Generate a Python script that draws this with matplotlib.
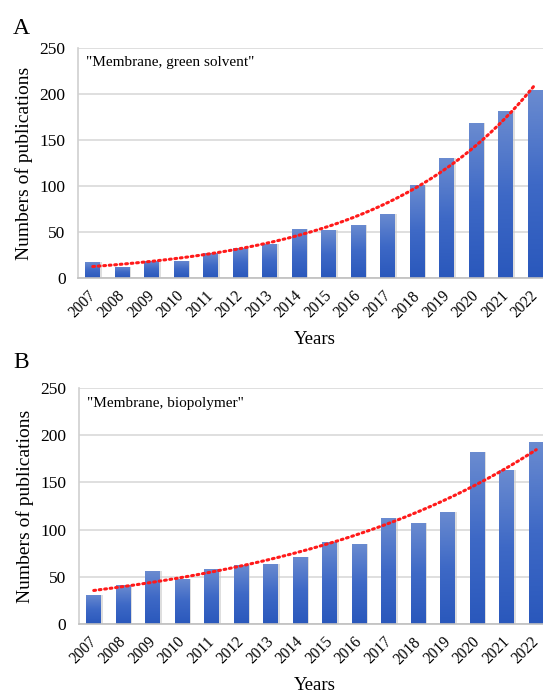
import numpy as np
import matplotlib.pyplot as plt
import matplotlib.colors as mcolors
import matplotlib.transforms as mtrans

plt.rcParams['font.family'] = ['Liberation Serif', 'DejaVu Serif']

years = list(range(2007, 2023))
green_solvent = [17, 12, 19, 19, 27, 33, 37, 53, 52, 58, 70, 101, 130, 168, 181, 204]
biopolymer = [31, 41, 56, 48, 58, 63, 64, 71, 87, 85, 112, 107, 119, 182, 163, 193]

panels = [
    ('A', '"Membrane, green solvent"', green_solvent),
    ('B', '"Membrane, biopolymer"', biopolymer),
]

W, H = 543, 694
fig = plt.figure(figsize=(W / 100, H / 100), dpi=100)

# axes boxes in pixels: left, top, bottom
boxes = [(78, 48, 278), (79, 388, 624)]
label_pos = [(13, 28), (13, 362)]
years_y = [339, 685]

cmap = mcolors.LinearSegmentedColormap.from_list('bar', ['#2a58bc', '#3e69c6', '#6a8bd0'])
grad = np.linspace(0, 1, 100).reshape(-1, 1)
shift = mtrans.ScaledTranslation(-5 / 100, -10 / 100, fig.dpi_scale_trans)

for (letter, note, vals), (l, t, b), (lx, ly), yy in zip(panels, boxes, label_pos, years_y):
    ax = fig.add_axes([l / W, 1 - b / H, 472 / W, (b - t) / H])
    x = np.arange(len(years))
    v = np.array(vals)

    bars = ax.bar(x, v, width=0.5, color='#3e69c6', zorder=2)
    for r in bars:
        bx, by = r.get_x(), r.get_y()
        bw, bh = r.get_width(), r.get_height()
        # soft shadow
        ax.bar(bx + bw / 2 + 0.05, bh, width=bw, bottom=0, color='#c8c8c8',
               alpha=0.6, zorder=1.5)
        im = ax.imshow(grad, extent=[bx, bx + bw, by, by + bh], origin='lower',
                       cmap=cmap, aspect='auto', zorder=2.5)
        im.set_clip_path(r)

    # exponential trendline (least squares on log values)
    k, c = np.polyfit(x, np.log(v), 1)
    xs = np.linspace(0, len(years) - 1, 200)
    ax.plot(xs, np.exp(c + k * xs), color='#ff1a1a', lw=2.2, ls=(0, (0.6, 1.2)),
            dash_capstyle='round', zorder=3)

    ax.set_xlim(-0.5, len(years) - 0.5)
    ax.set_ylim(0, 250)
    ax.set_yticks(np.arange(0, 251, 50))
    ax.set_xticks(x)
    ax.set_xticklabels([])
    # rotated year labels, placed under each tick
    for xi, yr in zip(x, years):
        ax.text(xi, 0, str(yr), transform=ax.get_xaxis_transform() + shift,
                rotation=45, ha='right', va='top', rotation_mode='anchor',
                fontsize=11.2)
    ax.tick_params(axis='y', labelsize=12.5, length=0, pad=9)
    ax.tick_params(axis='x', length=0, pad=4)
    ax.grid(axis='y', color='#d9d9d9', lw=1.2, zorder=0)
    ax.set_axisbelow(True)
    for s in ['top', 'right']:
        ax.spines[s].set_visible(False)
    ax.spines['left'].set_color('#d0d0d0')
    ax.spines['bottom'].set_color('#bfbfbf')
    ax.spines['left'].set_linewidth(1.2)
    ax.spines['bottom'].set_linewidth(1.2)

    ax.set_ylabel('Numbers of publications', fontsize=14, labelpad=5)
    ax.text(0.017, 0.935, note, transform=ax.transAxes, fontsize=11,
            va='center', ha='left')
    fig.text(lx / W, 1 - ly / H, letter, fontsize=17, va='center', ha='left')
    fig.text(315 / W, 1 - yy / H, 'Years', fontsize=13.5, va='center', ha='center')

fig.savefig('out.png', dpi=100)
